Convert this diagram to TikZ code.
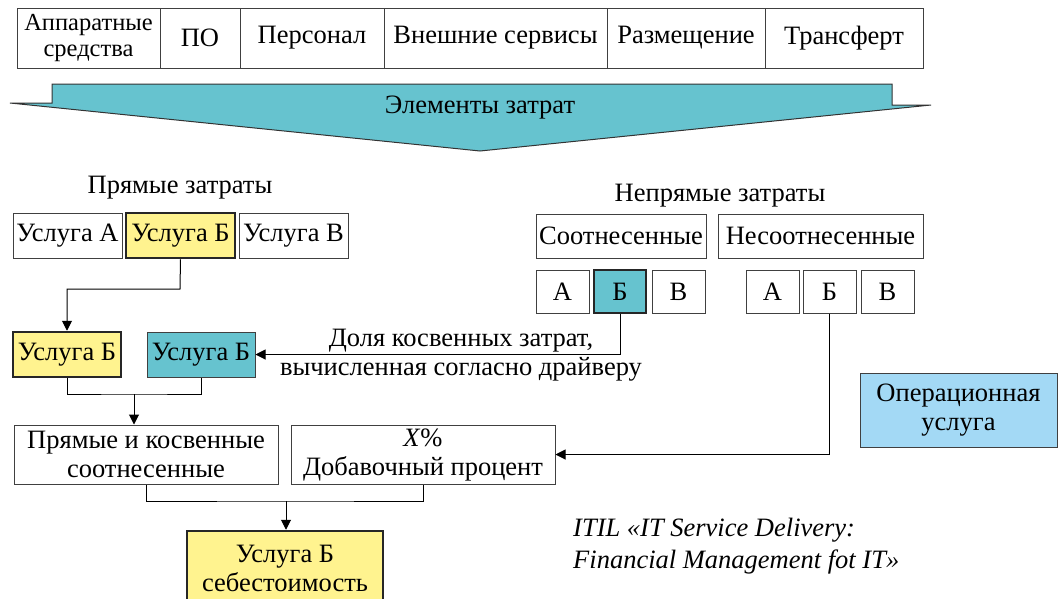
\documentclass[tikz,border=0pt]{standalone}
\usepackage{fontspec}
\setmainfont{Liberation Serif}
\usetikzlibrary{arrows.meta}
\definecolor{tealfill}{RGB}{102,195,207}
\definecolor{yellowfill}{RGB}{255,243,143}
\definecolor{bluefill}{RGB}{163,217,245}

\begin{document}
\begin{tikzpicture}[x=1pt, y=-1pt,
    every node/.style={font=\fontsize{26.5}{29}\selectfont, inner sep=0pt},
    box/.style={draw=black!75, line width=1pt, align=center},
    hibox/.style={box, draw=black!85, line width=2.5pt},
    arr/.style={-{Triangle[black, length=10pt, width=10pt]}, line width=1pt}]
    \useasboundingbox (0,0) rectangle (1058,598);
    % cost elements
    \node[box, minimum width=143pt, minimum height=60pt, font=\fontsize{24.5}{26}\selectfont] (hw) at (88.5,38) {Аппаратные\\средства};
    \node[box, minimum width=80pt, minimum height=60pt] (sw) at (200,38) {ПО};
    \node[box, minimum width=144pt, minimum height=60pt] (staff) at (312,38) {Персонал};
    \node[box, minimum width=223pt, minimum height=60pt] (ext) at (495.5,38) {Внешние сервисы};
    \node[box, minimum width=158pt, minimum height=60pt] (place) at (686,38) {Размещение};
    \node[box, minimum width=158pt, minimum height=60pt] (transf) at (844,38) {Трансферт};
    \draw[fill=tealfill, draw=black!80, line width=1pt] (10,103) -- (52,103) -- (52,84) -- (892,84) -- (892,105) -- (931,105) -- (480,151) -- cycle;
    \node (elem) at (480,108) {Элементы затрат};
    % direct costs
    \node (direct) at (180,188) {Прямые затраты};
    \node[box, minimum width=109pt, minimum height=45pt] (dA) at (67.5,235.5) {Услуга А};
    \node[hibox, fill=yellowfill, minimum width=109pt, minimum height=45pt] (dB) at (180.5,235.5) {Услуга Б};
    \node[box, minimum width=109pt, minimum height=45pt] (dV) at (293.5,235.5) {Услуга В};
    \node[hibox, fill=yellowfill, minimum width=108pt, minimum height=45pt] (yB) at (67,354.5) {Услуга Б};
    \node[box, fill=tealfill, minimum width=108pt, minimum height=45pt] (tB) at (201,354.5) {Услуга Б};
    \node[box, minimum width=264pt, minimum height=59pt] (pk) at (146,454.5) {Прямые и косвенные\\соотнесенные};
    \node[box, minimum width=264pt, minimum height=59pt] (xp) at (423,454.5) {\textit{X}\%\\Добавочный процент};
    \node[hibox, fill=yellowfill, minimum width=196pt, minimum height=75pt] (cost) at (285,568.5) {Услуга Б\\себестоимость};
    % indirect costs
    \node (indirect) at (720,196) {Непрямые затраты};
    \node[box, minimum width=170pt, minimum height=44pt] (corr) at (621,236) {Соотнесенные};
    \node[box, minimum width=205pt, minimum height=44pt] (ncorr) at (820.5,236) {Несоотнесенные};
    \node[box, minimum width=53pt, minimum height=43pt] (cA) at (562.5,291.5) {А};
    \node[hibox, fill=tealfill, minimum width=52pt, minimum height=43pt] (cB) at (620,291.5) {Б};
    \node[box, minimum width=53pt, minimum height=43pt] (cV) at (678.5,291.5) {В};
    \node[box, minimum width=53pt, minimum height=43pt] (nA) at (772.5,291.5) {А};
    \node[box, minimum width=53pt, minimum height=43pt] (nB) at (829.5,291.5) {Б};
    \node[box, minimum width=53pt, minimum height=43pt] (nV) at (887.5,291.5) {В};
    \node[align=center] (share) at (461,355.5) {Доля косвенных затрат,\\вычисленная согласно драйверу};
    \node[box, fill=bluefill, minimum width=197pt, minimum height=74pt] (ops) at (958.5,410) {Операционная\\услуга};
    \node[align=left, anchor=west, font=\fontsize{26.5}{32}\selectfont\itshape] (itil) at (573,546) {ITIL «IT Service Delivery:\\Financial Management fot IT»};
    % connectors
    \coordinate (k1) at (180,289);
    \draw[arr] (dB.south) -- (k1) -| (yB.north);
    \draw[arr] (cB.south) |- (tB.east);
    \draw[arr] (nB.south) |- (xp.east);
    \coordinate (m1) at (134,394);
    \draw[line width=1pt] (yB.south) |- (m1) -| (tB.south);
    \draw[arr] (m1) -- (m1 |- pk.north);
    \coordinate (m2) at (286,501);
    \draw[line width=1pt] (pk.south) |- (m2) -| (xp.south);
    \draw[arr] (m2) -- (m2 |- cost.north);
\end{tikzpicture}
\end{document}
